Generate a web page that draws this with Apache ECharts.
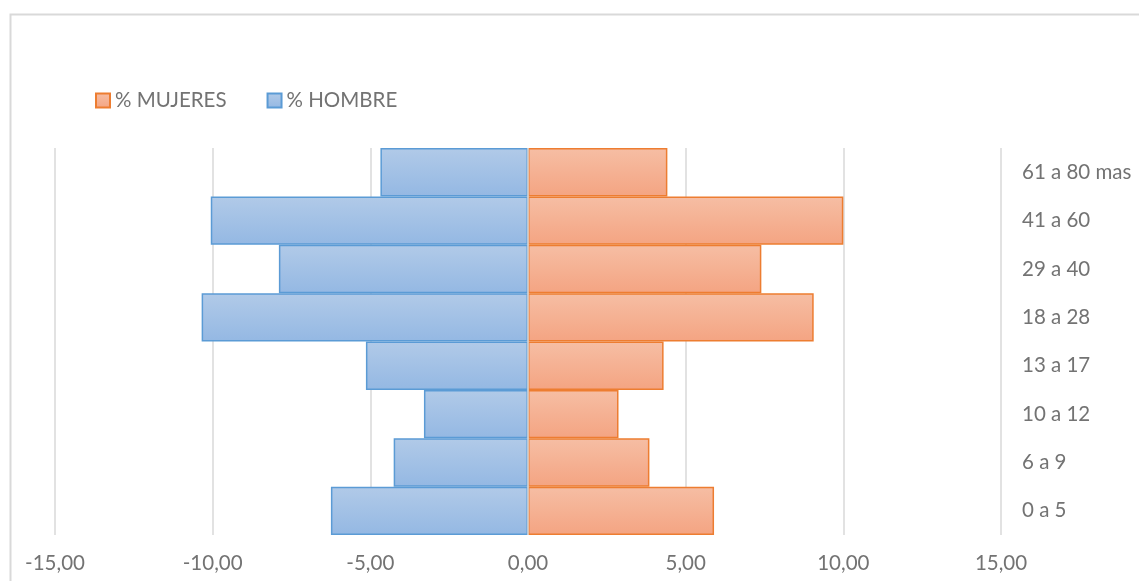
<!DOCTYPE html>
<html>
<head>
<meta charset="utf-8">
<script src="https://cdn.jsdelivr.net/npm/echarts@6/dist/echarts.min.js"></script>
<style>
html,body{margin:0;padding:0;background:#fff;}
#chart{width:1139px;height:581px;}
</style>
</head>
<body>
<div id="chart"></div>
<script>
const categories = ['0 a 5', '6 a 9', '10 a 12', '13 a 17', '18 a 28', '29 a 40', '41 a 60', '61 a 80 mas'];
const mujeres = [5.90, 3.85, 2.87, 4.30, 9.06, 7.40, 10.00, 4.42];
const hombre = [-6.25, -4.26, -3.30, -5.14, -10.35, -7.90, -10.06, -4.68];
const xTicks = { min: -15, max: 15, interval: 5 };

const FONT = 'Lato';
const TXT = '#737373';
const FS = 20.5;

const chart = echarts.init(document.getElementById('chart'));
function grad(top, bottom) {
  return new echarts.graphic.LinearGradient(0, 0, 0, 1, [
    { offset: 0, color: top }, { offset: 1, color: bottom }
  ]);
}
chart.setOption({
  animation: false,
  backgroundColor: '#ffffff',
  graphic: [{
    type: 'rect', left: 8, top: 12,
    shape: { width: 1140, height: 600 },
    style: { fill: 'none', stroke: '#d9d9d9', lineWidth: 2 }, silent: true
  }],
  legend: {
    left: 90, top: 85, itemWidth: 14, itemHeight: 14, itemGap: 40,
    icon: 'rect',
    textStyle: { color: TXT, fontFamily: FONT, fontSize: FS },
    data: ['% MUJERES', '% HOMBRE']
  },
  grid: { left: 55, right: 138, top: 148, bottom: 46, containLabel: false },
  xAxis: {
    type: 'value', min: xTicks.min, max: xTicks.max, interval: xTicks.interval,
    axisLine: { show: false }, axisTick: { show: false },
    splitLine: { show: true, lineStyle: { color: '#d9d9d9', width: 1.5 } },
    axisLabel: {
      color: TXT, fontFamily: FONT, fontSize: FS, margin: 18,
      formatter: v => v.toFixed(2).replace('.', ',')
    }
  },
  yAxis: {
    type: 'category', data: categories, position: 'right',
    axisLine: { show: false }, axisTick: { show: false },
    axisLabel: { color: TXT, fontFamily: FONT, fontSize: FS, margin: 21, align: 'left' }
  },
  series: [
    {
      name: '% MUJERES', type: 'bar', stack: 'pyr', data: mujeres,
      barCategoryGap: 0,
      itemStyle: { color: grad('#F6BEA4', '#F4A482'), borderColor: '#ED7D31', borderWidth: 1.5 },
      markLine: {
        silent: true, symbol: 'none', label: { show: false },
        lineStyle: { color: '#d9d9d9', width: 1.5, type: 'solid' },
        data: [{ xAxis: 0 }]
      }
    },
    {
      name: '% HOMBRE', type: 'bar', stack: 'pyr', data: hombre,
      barCategoryGap: 0,
      itemStyle: { color: grad('#B1CAE8', '#94B8E3'), borderColor: '#5B9BD5', borderWidth: 1.5 }
    }
  ]
});
</script>
</body>
</html>
